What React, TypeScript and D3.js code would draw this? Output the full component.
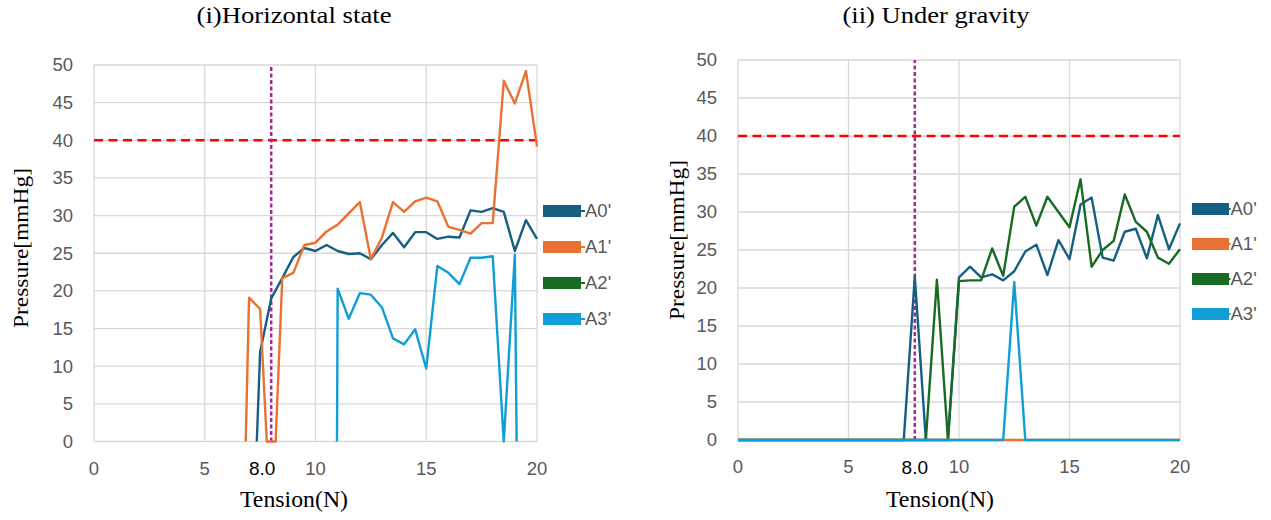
import { useEffect, useRef } from "react";
import * as d3 from "d3";

const SERIES = [
  { key: "A0'", color: "#156082" },
  { key: "A1'", color: "#E97132" },
  { key: "A2'", color: "#196B24" },
  { key: "A3'", color: "#0F9ED5" },
];

const X_TICKS = [0, 5, 10, 15, 20];
const Y_TICKS = [0, 5, 10, 15, 20, 25, 30, 35, 40, 45, 50];
const LIMIT = 40;
const MARK = 8.0;

// (i) Horizontal state -- measured points, series start/stop where they were read
const H_A0_X = [7.35, 7.5, 8, 8.5, 9, 9.5, 10, 10.5, 11, 11.5, 12, 12.5, 13, 13.5, 14, 14.5, 15, 15.5, 16, 16.5, 17, 17.5, 18, 18.5, 19, 19.5, 20];
const H_A0_Y = [0, 11.9, 19.0, 21.7, 24.5, 25.7, 25.3, 26.1, 25.3, 24.9, 25.0, 24.2, 26.1, 27.7, 25.8, 27.8, 27.8, 26.9, 27.2, 27.1, 30.7, 30.5, 31.0, 30.5, 25.3, 29.4, 26.9];
const H_A1_X = [6.85, 7, 7.5, 7.8, 8.2, 8.5, 9, 9.5, 10, 10.5, 11, 11.5, 12, 12.5, 13, 13.5, 14, 14.5, 15, 15.5, 16, 16.5, 17, 17.5, 18, 18.5, 19, 19.5, 20];
const H_A1_Y = [0, 19.1, 17.6, 0, 0, 21.7, 22.4, 26.1, 26.4, 27.9, 28.8, 30.3, 31.8, 24.2, 27.1, 31.8, 30.5, 31.9, 32.4, 31.9, 28.5, 28.1, 27.6, 29.0, 29.0, 47.9, 44.9, 49.2, 39.2];
const H_A2_X: number[] = [];
const H_A2_Y: number[] = [];
const H_A3_X = [10.97, 11, 11.5, 12, 12.5, 13, 13.5, 14, 14.5, 15, 15.5, 16, 16.5, 17, 17.5, 18, 18.5, 19, 19.08];
const H_A3_Y = [0, 20.3, 16.3, 19.7, 19.5, 17.8, 13.7, 12.9, 14.9, 9.7, 23.3, 22.4, 20.9, 24.4, 24.4, 24.6, 0, 24.8, 0];

// (ii) Under gravity -- every 0.5 N
const G_X = [0, 0.5, 1, 1.5, 2, 2.5, 3, 3.5, 4, 4.5, 5, 5.5, 6, 6.5, 7, 7.5, 8, 8.5, 9, 9.5, 10, 10.5, 11, 11.5, 12, 12.5, 13, 13.5, 14, 14.5, 15, 15.5, 16, 16.5, 17, 17.5, 18, 18.5, 19, 19.5, 20];
const G_A0 = [0, 0, 0, 0, 0, 0, 0, 0, 0, 0, 0, 0, 0, 0, 0, 0, 21.5, 0, 0, 0, 21.4, 22.8, 21.4, 21.8, 21.0, 22.2, 24.8, 25.7, 21.7, 26.3, 23.8, 31.0, 31.9, 24.0, 23.6, 27.4, 27.8, 23.9, 29.6, 25.1, 28.5];
const G_A1 = [0, 0, 0, 0, 0, 0, 0, 0, 0, 0, 0, 0, 0, 0, 0, 0, 0, 0, 0, 0, 0, 0, 0, 0, 0, 0, 0, 0, 0, 0, 0, 0, 0, 0, 0, 0, 0, 0, 0, 0, 0];
const G_A2 = [0, 0, 0, 0, 0, 0, 0, 0, 0, 0, 0, 0, 0, 0, 0, 0, 0, 0, 21.1, 0, 20.9, 21.0, 21.0, 25.2, 21.6, 30.7, 32.0, 28.2, 32.0, 30.0, 28.0, 34.3, 22.8, 25.0, 26.2, 32.3, 28.7, 27.4, 24.0, 23.2, 25.1];
const G_A3 = [0, 0, 0, 0, 0, 0, 0, 0, 0, 0, 0, 0, 0, 0, 0, 0, 0, 0, 0, 0, 0, 0, 0, 0, 0, 20.8, 0, 0, 0, 0, 0, 0, 0, 0, 0, 0, 0, 0, 0, 0, 0];

const pairs = (xs: number[], ys: number[]) => ys.map((v, i) => [xs[i], v] as [number, number]);

const PANELS = [
  {
    title: "(i)Horizontal state", titleX: 294, titleW: 195,
    xr: [94, 537], yr: [441.5, 65],
    yLabelX: 20, yLabelY: 248, xLabelX: 294,
    markDx: -9,
    legend: { x: 543, y: 211, step: 36, w: 38, gap: 4 },
    lines: [pairs(H_A0_X, H_A0_Y), pairs(H_A1_X, H_A1_Y), pairs(H_A2_X, H_A2_Y), pairs(H_A3_X, H_A3_Y)],
  },
  {
    title: "(ii) Under gravity", titleX: 936, titleW: 187,
    xr: [738, 1180], yr: [440, 60],
    yLabelX: 676, yLabelY: 240, xLabelX: 940,
    markDx: 0,
    legend: { x: 1192, y: 209, step: 35, w: 37, gap: 1.5 },
    lines: [pairs(G_X, G_A0), pairs(G_X, G_A1), pairs(G_X, G_A2), pairs(G_X, G_A3)],
  },
];

const GRID = "#d9d9d9";
const TICK = "#595959";
const SANS = "'Liberation Sans', Arial, sans-serif";
const SERIF = "'Liberation Serif', 'Times New Roman', serif";

export default function App() {
  const svgRef = useRef<SVGSVGElement>(null);

  useEffect(() => {
    const svg = d3.select(svgRef.current);
    svg.selectAll("*").remove();

    PANELS.forEach((p) => {
      const g = svg.append("g");
      const x = d3.scaleLinear().domain([0, 20]).range(p.xr);
      const y = d3.scaleLinear().domain([0, 50]).range(p.yr);

      // grid
      g.selectAll(".hg").data(Y_TICKS).join("line")
        .attr("x1", p.xr[0]).attr("x2", p.xr[1])
        .attr("y1", (d) => y(d)).attr("y2", (d) => y(d))
        .attr("stroke", GRID).attr("stroke-width", 1.3);
      g.selectAll(".vg").data(X_TICKS).join("line")
        .attr("x1", (d) => x(d)).attr("x2", (d) => x(d))
        .attr("y1", p.yr[0]).attr("y2", p.yr[1])
        .attr("stroke", GRID).attr("stroke-width", 1.3);

      // tick labels
      g.selectAll(".yt").data(Y_TICKS).join("text")
        .attr("x", p.xr[0] - 21).attr("y", (d) => y(d)).attr("dy", "0.35em")
        .attr("text-anchor", "end").attr("fill", TICK)
        .attr("font-family", SANS).attr("font-size", 18.5)
        .text((d) => d);
      g.selectAll(".xt").data(X_TICKS).join("text")
        .attr("x", (d) => x(d)).attr("y", p.yr[0] + 27).attr("dy", "0.35em")
        .attr("text-anchor", "middle").attr("fill", TICK)
        .attr("font-family", SANS).attr("font-size", 18.5)
        .text((d) => d);
      g.append("text")
        .attr("x", x(MARK) + p.markDx).attr("y", p.yr[0] + 27).attr("dy", "0.35em")
        .attr("text-anchor", "middle").attr("fill", "#000")
        .attr("font-family", SANS).attr("font-size", 19)
        .text(MARK.toFixed(1));

      // reference lines
      g.append("line")
        .attr("x1", p.xr[0]).attr("x2", p.xr[1]).attr("y1", y(LIMIT)).attr("y2", y(LIMIT))
        .attr("stroke", "#ff0000").attr("stroke-width", 2.5).attr("stroke-dasharray", "9,5.5");
      g.append("line")
        .attr("x1", x(MARK)).attr("x2", x(MARK)).attr("y1", p.yr[0]).attr("y2", p.yr[1])
        .attr("stroke", "#a02b93").attr("stroke-width", 2.5).attr("stroke-dasharray", "4,2.5");

      // series
      const line = d3.line<[number, number]>().x((d) => x(d[0])).y((d) => y(d[1]));
      p.lines.forEach((pts, i) => {
        if (!pts.length) return;
        g.append("path").datum(pts)
          .attr("fill", "none").attr("stroke", SERIES[i].color)
          .attr("stroke-width", 2.4).attr("stroke-linejoin", "round")
          .attr("d", line);
      });

      // legend
      const L = p.legend;
      SERIES.forEach((s, i) => {
        const ly = L.y + i * L.step;
        g.append("rect").attr("x", L.x).attr("y", ly - 6).attr("width", L.w).attr("height", 12)
          .attr("fill", s.color);
        g.append("line").attr("x1", L.x + L.w).attr("x2", L.x + L.w + L.gap)
          .attr("y1", ly).attr("y2", ly).attr("stroke", s.color).attr("stroke-width", 2);
        g.append("text").attr("x", L.x + L.w + L.gap).attr("y", ly).attr("dy", "0.35em")
          .attr("fill", TICK).attr("font-family", SANS).attr("font-size", 18.5)
          .text(s.key);
      });

      // titles
      g.append("text").attr("x", p.titleX).attr("y", 23)
        .attr("text-anchor", "middle").attr("fill", "#000")
        .attr("font-family", SERIF).attr("font-size", 24)
        .attr("textLength", p.titleW).attr("lengthAdjust", "spacingAndGlyphs")
        .text(p.title);
      g.append("text").attr("x", p.xLabelX).attr("y", 507)
        .attr("text-anchor", "middle").attr("fill", "#000")
        .attr("font-family", SERIF).attr("font-size", 23)
        .attr("textLength", 108).attr("lengthAdjust", "spacingAndGlyphs")
        .text("Tension(N)");
      g.append("text")
        .attr("transform", `translate(${p.yLabelX},${p.yLabelY}) rotate(-90)`)
        .attr("text-anchor", "middle").attr("dy", "0.35em").attr("fill", "#000")
        .attr("font-family", SERIF).attr("font-size", 22)
        .attr("textLength", 160).attr("lengthAdjust", "spacingAndGlyphs")
        .text("Pressure[mmHg]");
    });
  }, []);

  return (
    <div style={{ position: "fixed", left: 0, top: 0, background: "#fff" }}>
      <svg ref={svgRef} width={1271} height={520} style={{ display: "block" }} />
    </div>
  );
}
